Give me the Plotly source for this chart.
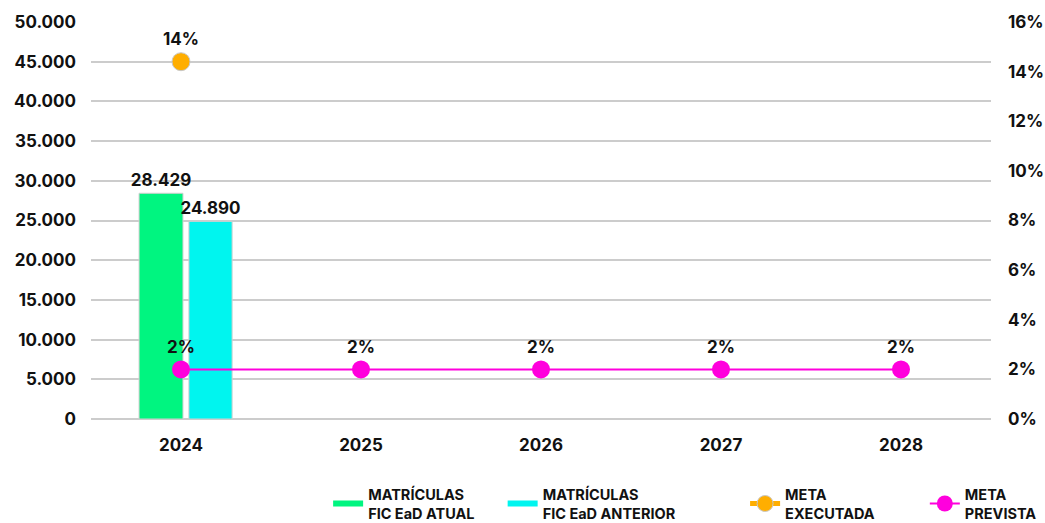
import plotly.graph_objects as go

anos = ["2024", "2025", "2026", "2027", "2028"]
matriculas_atual = [28429, None, None, None, None]
matriculas_anterior = [24890, None, None, None, None]
meta_executada = [0.144, None, None, None, None]
meta_executada_txt = ["14%", "", "", "", ""]
meta_prevista = [0.02, 0.02, 0.02, 0.02, 0.02]
meta_prevista_txt = ["2%", "2%", "2%", "2%", "2%"]

verde = "#00f580"
ciano = "#00f5ef"
laranja = "#ffae00"
magenta = "#ff00dd"

fonte = dict(family="Inter", size=17, color="#111111", weight="bold")

fig = go.Figure()
fig.add_trace(go.Bar(
    x=anos, y=matriculas_atual, name="MATRÍCULAS<br>FIC EaD ATUAL",
    width=0.244, offset=-0.233,
    marker=dict(color=verde, line=dict(color="#d0d0d0", width=1)),
    texttemplate="%{y:,d}", textposition="outside", textfont=fonte,
    constraintext="none", cliponaxis=False, showlegend=False,
))
fig.add_trace(go.Bar(
    x=anos, y=matriculas_anterior, name="MATRÍCULAS<br>FIC EaD ANTERIOR",
    width=0.24, offset=0.044,
    marker=dict(color=ciano, line=dict(color="#d0d0d0", width=1)),
    texttemplate="%{y:,d}", textposition="outside", textfont=fonte,
    constraintext="none", cliponaxis=False, showlegend=False,
))
# entradas de legenda das barras em forma de linha, como no original
fig.add_trace(go.Scatter(x=[None], y=[None], mode="lines", name="MATRÍCULAS<br>FIC EaD ATUAL",
                         line=dict(color=verde, width=6), legend="legend"))
fig.add_trace(go.Scatter(x=[None], y=[None], mode="lines", name="MATRÍCULAS<br>FIC EaD ANTERIOR",
                         line=dict(color=ciano, width=6), legend="legend2"))
fig.add_trace(go.Scatter(
    x=anos, y=meta_executada, name="META<br>EXECUTADA", yaxis="y2",
    mode="lines+markers+text", text=meta_executada_txt, textposition="top center",
    textfont=fonte, line=dict(color=laranja, width=5),
    marker=dict(color=laranja, size=18, line=dict(color="#c8c8c8", width=1)),
    cliponaxis=False, legend="legend3",
))
fig.add_trace(go.Scatter(
    x=anos, y=meta_prevista, name="META<br>PREVISTA", yaxis="y2",
    mode="lines+markers+text", text=meta_prevista_txt, textposition="top center",
    textfont=fonte, line=dict(color=magenta, width=2),
    marker=dict(color=magenta, size=18),
    cliponaxis=False, legend="legend4",
))

leg = dict(orientation="h", xref="container", yref="container",
           yanchor="middle", y=0.037, xanchor="left",
           font=dict(family="Inter", size=14.5, color="#111111", weight="bold"),
           bgcolor="rgba(0,0,0,0)")

fig.update_layout(
    width=1045, height=523,
    margin=dict(l=91, r=54, t=22, b=104),
    plot_bgcolor="white", paper_bgcolor="white",
    separators=",.",
    barmode="overlay",
    font=fonte,
    showlegend=True,
    legend=dict(leg, x=0.314),
    legend2=dict(leg, x=0.481),
    legend3=dict(leg, x=0.713),
    legend4=dict(leg, x=0.885),
    xaxis=dict(type="category", showgrid=False, showline=False, ticks="",
               tickfont=fonte, ticklabelstandoff=14, automargin=False),
    yaxis=dict(range=[0, 50000], dtick=5000, tickformat=",d",
               showgrid=True, gridcolor="#cccccc", gridwidth=2,
               zeroline=True, zerolinecolor="#cccccc", zerolinewidth=2,
               tickfont=fonte, ticklabelstandoff=14, automargin=False),
    yaxis2=dict(range=[0, 0.16], dtick=0.02, tickformat=".0%",
                overlaying="y", side="right", showgrid=False, zeroline=False,
                tickfont=fonte, ticklabelstandoff=16, automargin=False),
)

# tira a margem padrao do body para a figura caber na janela
fig.write_html("out.html", config={"displayModeBar": False},
               post_script="document.body.style.margin='0';")
